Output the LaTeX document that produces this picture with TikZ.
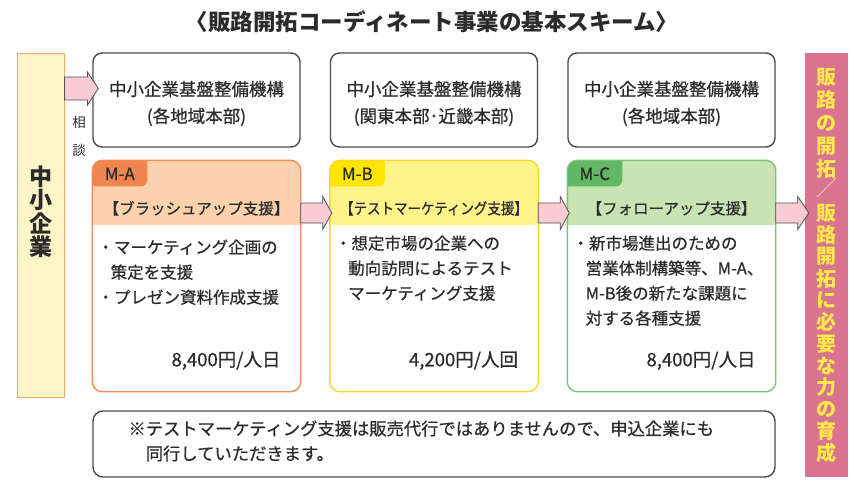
\documentclass[tikz,border=0pt]{standalone}
\usepackage{fontspec}
\usepackage{graphicx}
\setmainfont{Noto Sans CJK JP}
\newfontfamily\medfont{Noto Sans CJK JP}[FakeBold=0.6]
\usetikzlibrary{calc}
\definecolor{txt}{HTML}{2B2B2B}
\definecolor{topborder}{HTML}{4A4A4A}
\definecolor{maborder}{HTML}{EE8B5B}
\definecolor{mahead}{HTML}{FCD2AE}
\definecolor{matag}{HTML}{F0864E}
\definecolor{mbborder}{HTML}{F5DA2A}
\definecolor{mbhead}{HTML}{FFF38C}
\definecolor{mbtag}{HTML}{FFE500}
\definecolor{mcborder}{HTML}{79C27A}
\definecolor{mchead}{HTML}{C8E4B2}
\definecolor{mctag}{HTML}{62B765}
\definecolor{smefill}{HTML}{FFF6C8}
\definecolor{smeborder}{HTML}{EEA867}
\definecolor{barfill}{HTML}{DA7390}
\definecolor{bartext}{HTML}{FFE94A}
\definecolor{arrfill}{HTML}{F9CBD5}
\definecolor{arrline}{HTML}{505050}
\definecolor{slashcol}{HTML}{F6C2A8}
\begin{document}
\begin{tikzpicture}[x=1pt,y=-1pt,
  every node/.style={text=txt, inner sep=0pt},
  topbox/.style={draw=topborder, line width=1.4pt, rounded corners=9pt, fill=white,
    minimum width=207pt, minimum height=94pt},
  toptxt/.style={align=center, font=\medfont\fontsize{17.5}{27}\selectfont},
  modbox/.style={line width=1.4pt, rounded corners=10pt, minimum width=207pt, minimum height=230pt},
  headtxt/.style={font=\medfont\fontsize{15.5}{18}\selectfont},
  tagtxt/.style={font=\medfont\fontsize{17}{20}\selectfont},
  bodytxt/.style={align=left, anchor=north west, font=\medfont\fontsize{16.5}{25}\selectfont},
  pricetxt/.style={anchor=base east, font=\medfont\fontsize{18.5}{20}\selectfont},
  blockarr/.style={fill=arrfill, draw=arrline, line width=0.8pt, line join=miter},
  vchar/.style={font=\bfseries\fontsize{23}{25}\selectfont},
  barchar/.style={text=bartext, font=\bfseries\fontsize{20}{22}\selectfont},
  notebox/.style={draw=topborder, line width=1.4pt, rounded corners=10pt, fill=white,
    minimum width=682pt, minimum height=66pt}
]
\useasboundingbox (0,0) rectangle (865,495);

% title
\node[font=\bfseries\fontsize{22.5}{25}\selectfont] (title) at (432,22) {〈販路開拓コーディネート事業の基本スキーム〉};

% left box
\node[draw=smeborder, fill=smefill, line width=0.9pt, minimum width=47pt, minimum height=344pt] (sme) at (40.5,225) {};
\foreach \ch [count=\i] in {中,小,企,業}
  \node[vchar] (sme\i) at (40.5,{177+(\i-1)*23.3}) {\ch};

% consult label
\node[font=\fontsize{13.5}{15}\selectfont] (so) at (79,122) {相};
\node[font=\fontsize{13.5}{15}\selectfont] (dan) at (79,150) {談};

% top boxes
\node[topbox] (t1) at (196.5,100) {};
\node[topbox] (t2) at (434,100) {};
\node[topbox] (t3) at (671.5,100) {};
\node[toptxt] (t1t) at (196.5,103.5) {中小企業基盤整備機構\\(各地域本部)};
\node[toptxt] (t2t) at (434,103.5) {中小企業基盤整備機構\\(関東本部･近畿本部)};
\node[toptxt] (t3t) at (671.5,103.5) {中小企業基盤整備機構\\(各地域本部)};

% module boxes
\node[modbox] (ma) at (196.5,276) {};
\node[modbox] (mb) at (434,276) {};
\node[modbox] (mc) at (671.5,276) {};

\foreach \m/\hc/\tc in {ma/mahead/matag, mb/mbhead/mbtag, mc/mchead/mctag}{
  \begin{scope}
    \clip[rounded corners=10pt] (\m.north west) rectangle (\m.south east);
    \fill[white] (\m.north west) rectangle (\m.south east);
    \fill[\hc] (\m.north west) rectangle ($(\m.north east)+(0,65)$);
    \fill[\tc, rounded corners=6pt] ($(\m.north west)+(-8,-8)$) rectangle ($(\m.north west)+(55,26)$);
  \end{scope}
}
\draw[maborder, line width=1.4pt, rounded corners=10pt] (ma.north west) rectangle (ma.south east);
\draw[mbborder, line width=1.4pt, rounded corners=10pt] (mb.north west) rectangle (mb.south east);
\draw[mcborder, line width=1.4pt, rounded corners=10pt] (mc.north west) rectangle (mc.south east);

% tags
\node[tagtxt] (mat) at ($(ma.north west)+(27.5,13.5)$) {M-A};
\node[tagtxt] (mbt) at ($(mb.north west)+(27.5,13.5)$) {M-B};
\node[tagtxt] (mct) at ($(mc.north west)+(27.5,13.5)$) {M-C};

% headers
\node[headtxt] (mah) at ($(ma.north)+(0,48)$) {【ブラッシュアップ支援】};
\node[headtxt] (mbh) at ($(mb.north)+(0,48)$) {\scalebox{0.87}[1]{【テストマーケティング支援】}};
\node[headtxt] (mch) at ($(mc.north)+(0,48)$) {【フォローアップ支援】};

% bodies
\node[bodytxt] (mab) at ($(ma.north west)+(5,79)$) {・マーケティング企画の\\\hspace*{0.8em}策定を支援\\・プレゼン資料作成支援};
\node[bodytxt] (mbb) at ($(mb.north west)+(5,75)$) {・想定市場の企業への\\\hspace*{0.8em}動向訪問によるテスト\\\hspace*{0.8em}マーケティング支援};
\node[bodytxt] (mcb) at ($(mc.north west)+(5,75)$) {・新市場進出のための\\\hspace*{0.8em}営業体制構築等、M-A、\\\hspace*{0.8em}M-B後の新たな課題に\\\hspace*{0.8em}対する各種支援};

% prices
\node[pricetxt] (map) at ($(ma.north east)+(-20,206)$) {8,400円/人日};
\node[pricetxt] (mbp) at ($(mb.north east)+(-20,206)$) {4,200円/人回};
\node[pricetxt] (mcp) at ($(mc.north east)+(-20,206)$) {8,400円/人日};

% right bar
\node[fill=barfill, minimum width=43pt, minimum height=424pt] (bar) at (826.5,265) {};
\foreach \ch [count=\i] in {販,路,の,開,拓}
  \node[barchar] (bl\i) at (826.5,{77+(\i-1)*23}) {\ch};
\coordinate (sl1) at (817,197);
\coordinate (sl2) at (836,178);
\draw[slashcol, line width=0.8pt] (sl1) -- (sl2);
\foreach \ch [count=\i] in {販,路,開,拓,に,必,要,な,力,の,育,成}
  \node[barchar] (br\i) at (826.5,{213+(\i-1)*21.8}) {\ch};

% note box
\node[notebox] (note) at (434,444) {};
\node[align=left, anchor=north west, font=\medfont\fontsize{17.3}{25}\selectfont] (notet) at ($(note.north west)+(36,10)$) {※テストマーケティング支援は販売代行ではありませんので、申込企業にも\\\hspace*{1em}同行していただきます。};

% block arrows
\draw[blockarr] ($(sme.east)+(0,-148)$) -- ($(sme.east)+(23,-148)$) -- ($(sme.east)+(23,-153)$)
  -- ($(t1.west)+(6,-11.5)$) -- ($(sme.east)+(23,-120)$) -- ($(sme.east)+(23,-125)$) -- ($(sme.east)+(0,-125)$) -- cycle;
\draw[blockarr] ($(ma.east)+(0,-73)$) -- ($(ma.east)+(22,-73)$) -- ($(ma.east)+(22,-79.5)$)
  -- ($(mb.west)+(2,-63)$) -- ($(ma.east)+(22,-46.5)$) -- ($(ma.east)+(22,-53)$) -- ($(ma.east)+(0,-53)$) -- cycle;
\draw[blockarr] ($(mb.east)+(0,-73)$) -- ($(mb.east)+(22,-73)$) -- ($(mb.east)+(22,-79.5)$)
  -- ($(mc.west)+(2,-63)$) -- ($(mb.east)+(22,-46.5)$) -- ($(mb.east)+(22,-53)$) -- ($(mb.east)+(0,-53)$) -- cycle;
\draw[blockarr] ($(mc.east)+(0,-73)$) -- ($(mc.east)+(22,-73)$) -- ($(mc.east)+(22,-79.5)$)
  -- ($(bar.west)+(4,-52)$) -- ($(mc.east)+(22,-46.5)$) -- ($(mc.east)+(22,-53)$) -- ($(mc.east)+(0,-53)$) -- cycle;
\end{tikzpicture}
\end{document}
